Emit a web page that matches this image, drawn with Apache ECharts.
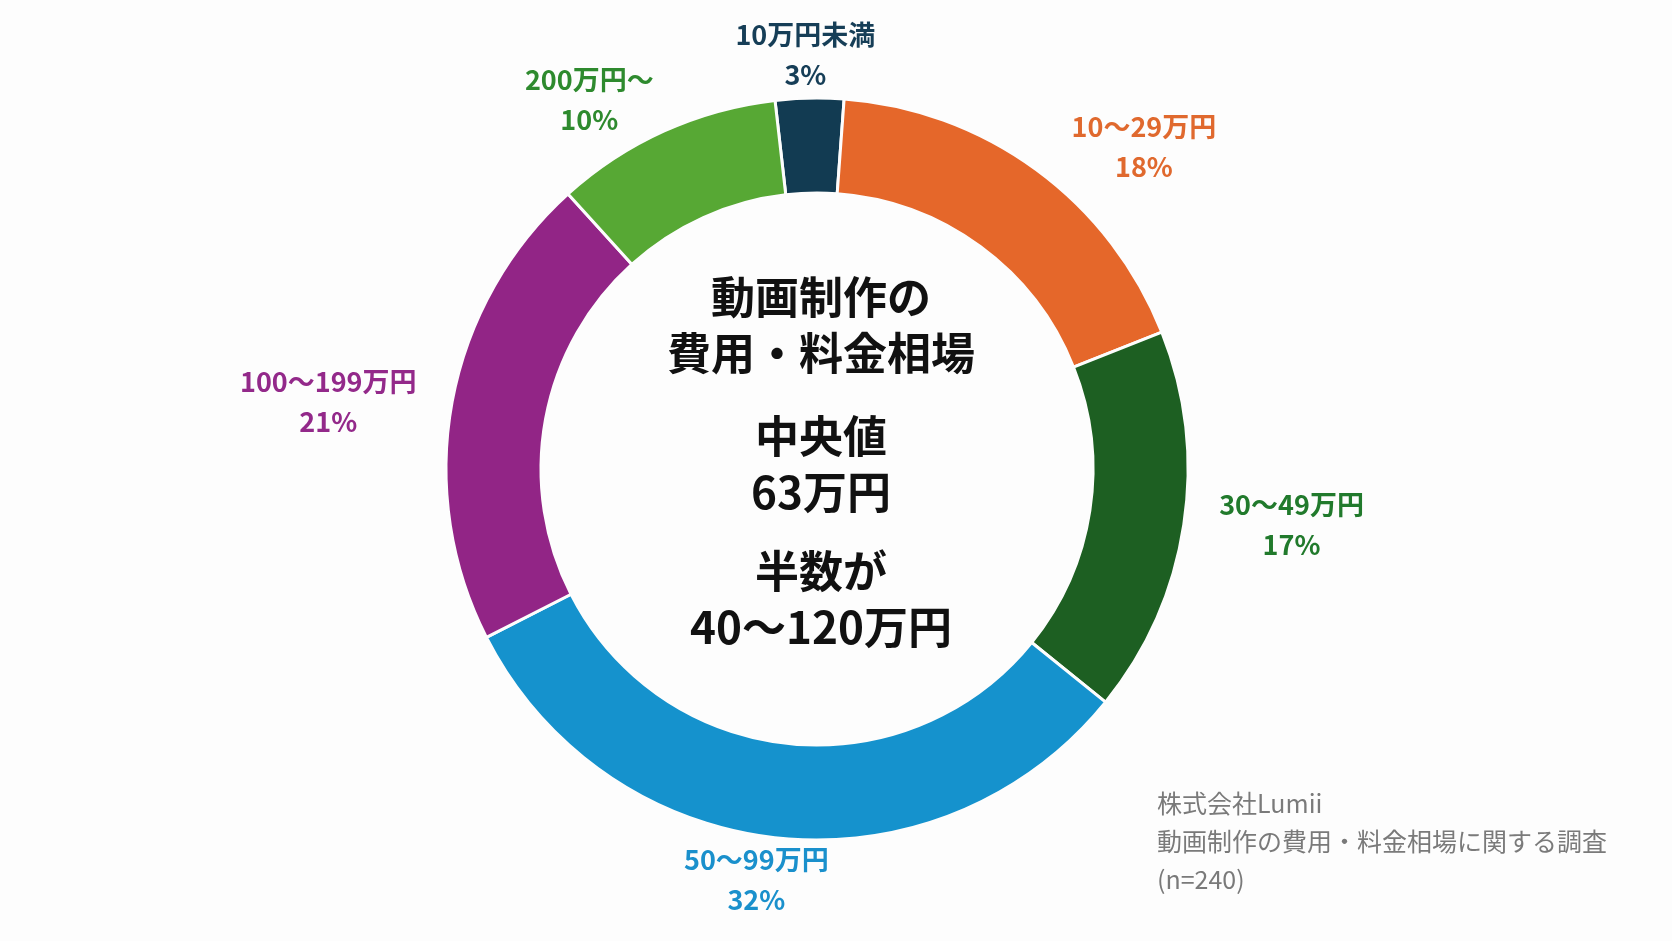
<!DOCTYPE html>
<html>
<head>
<meta charset="utf-8">
<title>動画制作の費用・料金相場</title>
<script src="https://cdn.jsdelivr.net/npm/echarts@6/dist/echarts.min.js"></script>
<style>
html, body { margin: 0; padding: 0; background: #fdfdfd; }
#main { width: 1672px; height: 941px; }
</style>
</head>
<body>
<div id="main"></div>
<script>
// データ
var categories = ["10万円未満", "10〜29万円", "30〜49万円", "50〜99万円", "100〜199万円", "200万円〜"];
var shares = [3, 18, 17, 32, 21, 10];
var centerLines = [["動画制作の", "費用・料金相場"], ["中央値", "63万円"], ["半数が", "40〜120万円"]];
var sourceLines = ["株式会社Lumii", "動画制作の費用・料金相場に関する調査", "(n=240)"];

var segColors = ["#123b52", "#e5672a", "#1d5f22", "#1592cd", "#922586", "#57a834"];
var labelColors = ["#163e57", "#e0692e", "#217a2c", "#1a90cc", "#93298a", "#2e8a2e"];

var FONT = '"Noto Sans CJK JP", "Noto Sans", sans-serif';
var CX = 817, CY = 469, R_IN = 276, R_OUT = 371;
var START = 96.5;

var total = shares.reduce(function (a, b) { return a + b; }, 0);

var chart = echarts.init(document.getElementById("main"));

// ラベルはセクター中央角の方向（少し水平寄り）に外側へ置く
function placeLabel(params) {
  var i = params.dataIndex;
  var cum = 0;
  for (var k = 0; k < i; k++) cum += shares[k];
  var mid = (90 - START + (cum + shares[i] / 2) / total * 360) * Math.PI / 180;
  var phi = mid + 6 * Math.sin(2 * mid) * Math.PI / 180;
  var dx = Math.sin(phi), dy = -Math.cos(phi);
  var w = params.labelRect.width, h = params.labelRect.height;
  var f = function (t) { return Math.sign(t) * Math.min(1, Math.abs(t) * 1.5); };
  var gap = 3 + 32 * Math.pow(dx, 4);
  return {
    x: CX + (R_OUT + gap) * dx + f(dx) * w / 2,
    y: CY + (R_OUT + gap) * dy + f(dy) * h / 2,
    align: "center",
    verticalAlign: "middle"
  };
}

var pieData = categories.map(function (name, i) {
  return {
    name: name,
    value: shares[i],
    itemStyle: { color: segColors[i] },
    label: { color: labelColors[i] }
  };
});

var graphics = [];
var groupY = [325, 464, 599];
centerLines.forEach(function (lines, i) {
  graphics.push({
    type: "text",
    x: 821,
    y: groupY[i],
    silent: true,
    style: {
      text: lines.join("\n"),
      fontFamily: FONT,
      fontSize: 44,
      fontWeight: "bold",
      lineHeight: 56,
      fill: "#111111",
      align: "center",
      verticalAlign: "middle"
    }
  });
});
graphics.push({
  type: "text",
  x: 1157,
  y: 784,
  silent: true,
  style: {
    text: sourceLines.join("\n"),
    fontFamily: FONT,
    fontSize: 25,
    lineHeight: 38,
    fill: "#7a7a7a",
    align: "left",
    verticalAlign: "top"
  }
});

var option = {
  backgroundColor: "#fdfdfd",
  animation: false,
  graphic: graphics,
  series: [
    {
      type: "pie",
      center: [CX, CY],
      radius: [R_IN, R_OUT],
      startAngle: START,
      clockwise: true,
      avoidLabelOverlap: false,
      silent: true,
      itemStyle: { borderColor: "#fdfdfd", borderWidth: 3 },
      label: {
        show: true,
        position: "outside",
        formatter: "{b}\n{c}%",
        fontFamily: FONT,
        fontSize: 27,
        fontWeight: "bold",
        lineHeight: 40
      },
      labelLine: { show: false },
      labelLayout: placeLabel,
      emphasis: { disabled: true },
      data: pieData
    }
  ]
};

chart.setOption(option);
</script>
</body>
</html>
